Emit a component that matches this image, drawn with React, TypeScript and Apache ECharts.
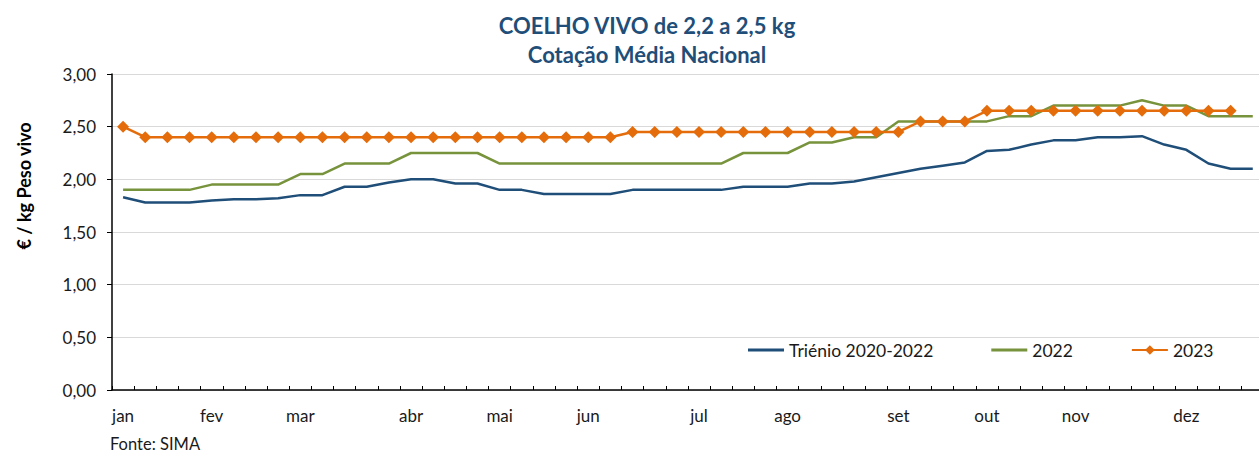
import React, { useEffect, useRef } from 'react';
import * as echarts from 'echarts';

const weeks = ['1','2','3','4','5','6','7','8','9','10','11','12','13','14','15','16','17','18','19','20','21','22','23','24','25','26','27','28','29','30','31','32','33','34','35','36','37','38','39','40','41','42','43','44','45','46','47','48','49','50','51','52','53'];
const monthNames = ['jan','fev','mar','abr','mai','jun','jul','ago','set','out','nov','dez'];
const monthWeekIdx = [0, 4, 8, 13, 17, 21, 26, 30, 35, 39, 43, 48];

const trienio = [1.83,1.78,1.78,1.78,1.80,1.81,1.81,1.82,1.85,1.85,1.93,1.93,1.97,2.00,2.00,1.96,1.96,1.90,1.90,1.86,1.86,1.86,1.86,1.90,1.90,1.90,1.90,1.90,1.93,1.93,1.93,1.96,1.96,1.98,2.02,2.06,2.10,2.13,2.16,2.27,2.28,2.33,2.37,2.37,2.40,2.40,2.41,2.33,2.28,2.15,2.10,2.10,null];
const y2022 = [1.90,1.90,1.90,1.90,1.95,1.95,1.95,1.95,2.05,2.05,2.15,2.15,2.15,2.25,2.25,2.25,2.25,2.15,2.15,2.15,2.15,2.15,2.15,2.15,2.15,2.15,2.15,2.15,2.25,2.25,2.25,2.35,2.35,2.40,2.40,2.55,2.55,2.55,2.55,2.55,2.60,2.60,2.70,2.70,2.70,2.70,2.75,2.70,2.70,2.60,2.60,2.60,null];
const y2023 = [2.50,2.40,2.40,2.40,2.40,2.40,2.40,2.40,2.40,2.40,2.40,2.40,2.40,2.40,2.40,2.40,2.40,2.40,2.40,2.40,2.40,2.40,2.40,2.45,2.45,2.45,2.45,2.45,2.45,2.45,2.45,2.45,2.45,2.45,2.45,2.45,2.55,2.55,2.55,2.65,2.65,2.65,2.65,2.65,2.65,2.65,2.65,2.65,2.65,2.65,2.65,null,null];

const FONT = 'Lato';
const BLUE = '#1F4E79';
const GREEN = '#77933C';
const ORANGE = '#E46C0A';
const LINE_ICON = 'path://M0,0 L36,0 L36,3 L0,3 Z';

export default function App() {
  const ref = useRef<HTMLDivElement>(null);
  useEffect(() => {
    if (!ref.current) return;
    const chart = echarts.init(ref.current, undefined, { renderer: 'svg' });
    chart.setOption({
      animation: false,
      textStyle: { fontFamily: FONT },
      title: {
        text: 'COELHO VIVO de 2,2 a 2,5 kg\nCotação Média Nacional',
        left: 642,
        top: 6,
        textAlign: 'center',
        textStyle: { fontFamily: FONT, fontSize: 22, fontWeight: 'bold', color: BLUE, lineHeight: 29 },
      },
      legend: {
        left: 748,
        top: 341,
        padding: 0,
        itemWidth: 36,
        itemHeight: 12,
        itemGap: 58,
        textStyle: { fontFamily: FONT, fontSize: 17.5, color: '#1a1a1a' },
        data: [
          { name: 'Triénio 2020-2022', icon: LINE_ICON, itemStyle: { color: BLUE } },
          { name: '2022', icon: LINE_ICON, itemStyle: { color: GREEN } },
          { name: '2023' },
        ],
      },
      grid: { left: 112, top: 74, bottom: 64, right: 0, containLabel: false },
      xAxis: {
        type: 'category',
        data: weeks,
        boundaryGap: true,
        axisLine: { lineStyle: { color: '#000', width: 1.5 } },
        axisTick: { show: true, inside: true, length: 4, interval: 0, lineStyle: { color: '#000' } },
        axisLabel: {
          interval: (i: number) => monthWeekIdx.indexOf(i) >= 0,
          formatter: (_v: string, i: number) => {
            const k = monthWeekIdx.indexOf(i);
            return k >= 0 ? monthNames[k] : '';
          },
          margin: 17,
          fontFamily: FONT,
          fontSize: 17,
          color: '#1a1a1a',
        },
        splitLine: { show: false },
      },
      yAxis: {
        type: 'value',
        min: 0,
        max: 3,
        interval: 0.5,
        axisLine: { show: true, lineStyle: { color: '#000', width: 1.5 } },
        axisTick: { show: true, inside: false, length: 5, lineStyle: { color: '#000' } },
        axisLabel: {
          formatter: (v: number) => v.toFixed(2).replace('.', ','),
          margin: 16,
          fontFamily: FONT,
          fontSize: 17,
          color: '#1a1a1a',
        },
        splitLine: { show: true, lineStyle: { color: '#D9D9D9', width: 1 } },
      },
      graphic: [
        {
          type: 'text',
          x: 24,
          y: 186,
          rotation: Math.PI / 2,
          style: {
            text: '€ / kg Peso vivo',
            fontFamily: FONT,
            fontSize: 18,
            fontWeight: 'bold',
            fill: '#000',
            align: 'center',
            verticalAlign: 'middle',
          },
        },
        {
          type: 'text',
          x: 110,
          y: 444,
          style: {
            text: 'Fonte: SIMA',
            fontFamily: FONT,
            fontSize: 16.5,
            fill: '#1a1a1a',
            align: 'left',
            verticalAlign: 'middle',
          },
        },
      ],
      series: [
        {
          name: 'Triénio 2020-2022',
          type: 'line',
          data: trienio,
          symbol: 'none',
          lineStyle: { color: BLUE, width: 2.5 },
          itemStyle: { color: BLUE },
          z: 2,
        },
        {
          name: '2022',
          type: 'line',
          data: y2022,
          symbol: 'none',
          lineStyle: { color: GREEN, width: 2.5 },
          itemStyle: { color: GREEN },
          z: 3,
        },
        {
          name: '2023',
          type: 'line',
          data: y2023,
          symbol: 'diamond',
          symbolSize: 12,
          lineStyle: { color: ORANGE, width: 2.5 },
          itemStyle: { color: ORANGE },
          z: 4,
        },
      ],
    });
    return () => chart.dispose();
  }, []);
  return (
    <div style={{ position: 'fixed', left: 0, top: 0, width: 1259, height: 454, overflow: 'hidden', background: '#fff' }}>
      <div ref={ref} style={{ width: 1286, height: 454 }} />
    </div>
  );
}
